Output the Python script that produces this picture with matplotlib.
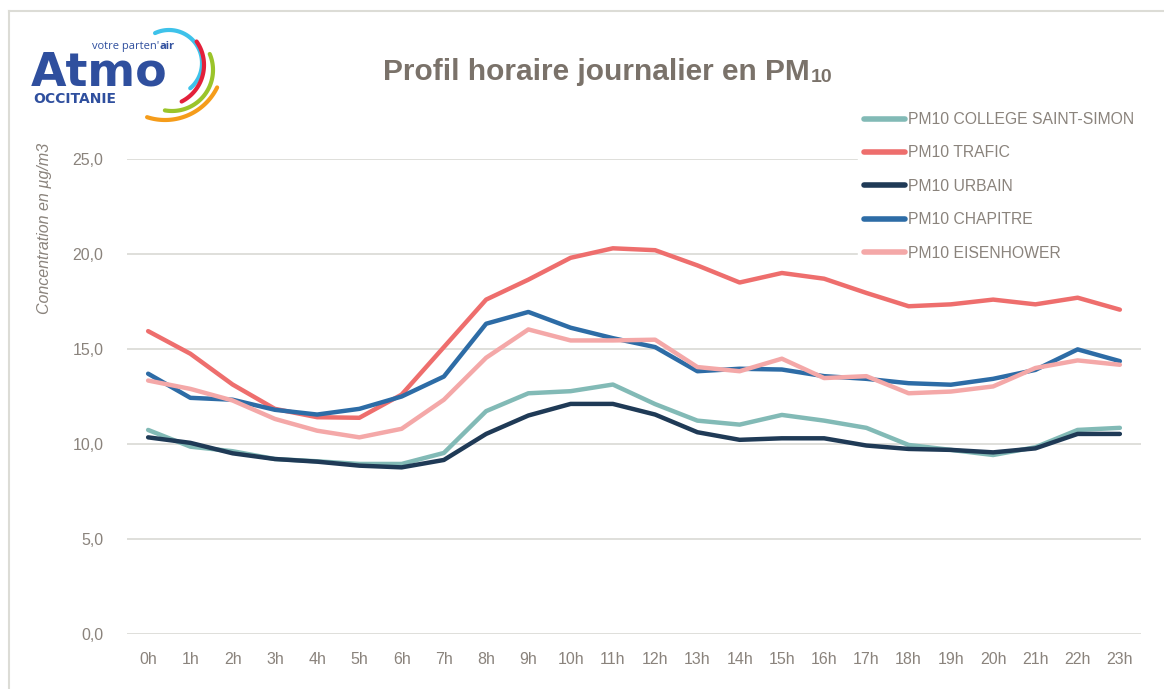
import numpy as np
import matplotlib
matplotlib.use('Agg')
import matplotlib.pyplot as plt
from matplotlib.ticker import FuncFormatter

hours = [f'{h}h' for h in range(24)]

college = [10.74, 9.86, 9.62, 9.21, 9.09, 8.95, 8.95, 9.53, 11.73, 12.67, 12.78, 13.13,
           12.1, 11.23, 11.02, 11.53, 11.23, 10.85, 9.95, 9.69, 9.42, 9.83, 10.74, 10.85]
trafic = [15.94, 14.75, 13.13, 11.85, 11.41, 11.38, 12.6, 15.1, 17.6, 18.65, 19.8, 20.3,
          20.2, 19.4, 18.5, 19.0, 18.7, 17.95, 17.25, 17.35, 17.6, 17.35, 17.7, 17.07]
urbain = [10.35, 10.06, 9.51, 9.21, 9.07, 8.86, 8.77, 9.16, 10.53, 11.5, 12.11, 12.11,
          11.55, 10.62, 10.22, 10.3, 10.3, 9.92, 9.74, 9.69, 9.56, 9.77, 10.53, 10.53]
chapitre = [13.7, 12.43, 12.33, 11.8, 11.55, 11.85, 12.5, 13.55, 16.33, 16.95, 16.12, 15.57,
            15.1, 13.83, 13.96, 13.92, 13.57, 13.43, 13.2, 13.12, 13.43, 13.9, 14.98, 14.36]
eisenhower = [13.34, 12.9, 12.29, 11.32, 10.7, 10.35, 10.8, 12.33, 14.54, 16.03, 15.45, 15.45,
              15.49, 14.05, 13.83, 14.49, 13.47, 13.57, 12.67, 12.76, 13.03, 14.0, 14.4, 14.17]

series_names = ['PM10 COLLEGE SAINT-SIMON', 'PM10 TRAFIC', 'PM10 URBAIN',
                'PM10 CHAPITRE', 'PM10 EISENHOWER']
series_colors = ['#82bab6', '#ee6e6d', '#1f3a56', '#2d6ca6', '#f4a8a8']

FONT = ['Liberation Sans', 'DejaVu Sans']
TXT = '#8a837c'
LOGO = '#2f4f9e'

W, H = 1164, 689
fig = plt.figure(figsize=(W / 100, H / 100), dpi=100)


def px(x0, y0, x1, y1):
    # pixel box (top-left origin) -> figure fraction rect
    return [x0 / W, 1 - y1 / H, (x1 - x0) / W, (y1 - y0) / H]


ax = fig.add_axes(px(127, 159, 1141, 634))
x = np.arange(len(hours))
for vals, name, col in zip([college, trafic, urbain, chapitre, eisenhower],
                           series_names, series_colors):
    ax.plot(x, vals, color=col, lw=3.2, label=name, solid_capstyle='round', zorder=3)

ax.set_xlim(-0.5, len(hours) - 0.5)
ax.set_ylim(0, 25)
ax.set_yticks(np.arange(0, 26, 5))
ax.yaxis.set_major_formatter(FuncFormatter(lambda v, p: f'{v:.1f}'.replace('.', ',')))
ax.set_xticks(x)
ax.set_xticklabels(hours)
ax.grid(axis='y', color='#dcdcd8', lw=1.3, zorder=0)
ax.tick_params(length=0, labelsize=11.5, labelcolor=TXT)
ax.tick_params(axis='y', pad=17)
ax.tick_params(axis='x', pad=13)
for lab in ax.get_xticklabels() + ax.get_yticklabels():
    lab.set_family(FONT)
for s in ax.spines.values():
    s.set_visible(False)

leg = ax.legend(loc='upper left', bbox_to_anchor=((850 - 127) / 1014, (634 - 98) / 475),
                frameon=True, framealpha=1, edgecolor='white', fancybox=False,
                prop={'family': FONT, 'size': 11.3}, labelcolor=TXT,
                handlelength=2.6, handletextpad=0.2, labelspacing=1.17, borderpad=0.4)
for line in leg.get_lines():
    line.set_linewidth(4)
leg.set_zorder(5)

fig.text(45 / W, 1 - 228 / H, 'Concentration en µg/m3', rotation=90, ha='center',
         va='center', style='italic', color=TXT, family=FONT, fontsize=11.5)

# title with subscript
t = fig.text(383 / W, 1 - 72 / H, 'Profil horaire journalier en PM', ha='left',
             va='center', fontweight='bold', color='#7a726a', family=FONT, fontsize=21.5)
fig.canvas.draw()
bb = t.get_window_extent()
fig.text(bb.x1 / W + 1 / W, 1 - 77 / H, '10', ha='left', va='center',
         fontweight='bold', color='#7a726a', family=FONT, fontsize=14)

# chart border
fig.add_artist(plt.Line2D([9 / W, 9 / W], [0, 1 - 11 / H], color='#dcdcd6', lw=1.5))
fig.add_artist(plt.Line2D([9 / W, 1], [1 - 11 / H, 1 - 11 / H], color='#dcdcd6', lw=1.5))

# logo
lg = fig.add_axes(px(25, 20, 235, 135))
lg.set_xlim(25, 235)
lg.set_ylim(135, 20)
lg.axis('off')
arcs = [((169, 63), 33, -115, 50, '#3ec2ea'),
        ((163, 65), 41, -35, 63, '#e3203a'),
        ((172, 70), 41, -23, 100, '#9bc42a'),
        ((165, 62), 58, 26, 108, '#f59c1a')]
for (cx, cy), r, a0, a1, c in arcs:
    th = np.radians(np.linspace(a0, a1, 60))
    lg.plot(cx + r * np.cos(th), cy + r * np.sin(th), color=c, lw=3, solid_capstyle='round')
lg.text(31, 85, 'Atmo', color=LOGO, fontweight='bold', family='DejaVu Sans',
        fontsize=33, ha='left', va='baseline')
vt = lg.text(92, 49, "votre parten'", color=LOGO, family='Open Sans', fontsize=8,
             ha='left', va='baseline')
fig.canvas.draw()
vb = vt.get_window_extent()
fig.text(vb.x1 / W, vb.y0 / H, 'air', color=LOGO, family='Open Sans',
         fontweight='bold', fontsize=8, ha='left', va='bottom')
lg.text(33, 103, 'OCCITANIE', color=LOGO, family='DejaVu Sans', fontweight='bold',
        fontsize=10, ha='left', va='baseline')

fig.savefig('out.png', dpi=100)
